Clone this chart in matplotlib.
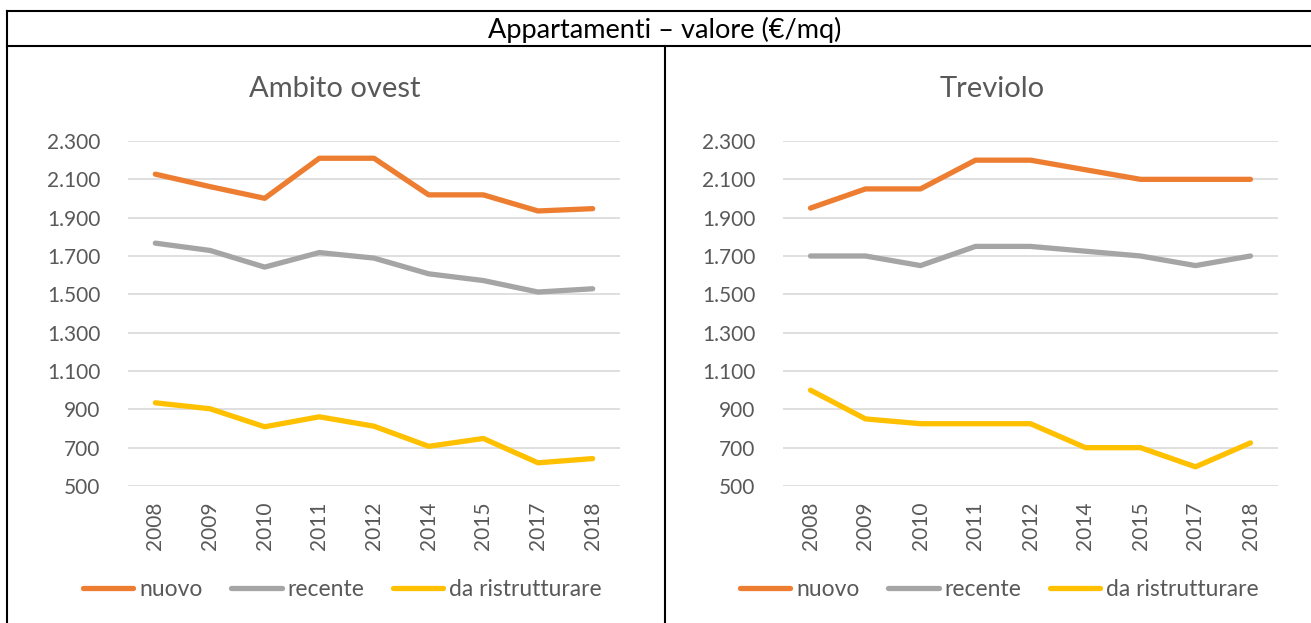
import matplotlib
matplotlib.use("Agg")
import matplotlib.pyplot as plt
from matplotlib.lines import Line2D
from matplotlib.ticker import FuncFormatter

years = ["2008", "2009", "2010", "2011", "2012", "2014", "2015", "2017", "2018"]
series_names = ["nuovo", "recente", "da ristrutturare"]

ovest_nuovo = [2127, 2062, 2001, 2210, 2210, 2019, 2019, 1935, 1947]
ovest_recente = [1767, 1729, 1642, 1718, 1689, 1607, 1572, 1512, 1529]
ovest_ristr = [934, 903, 809, 861, 812, 707, 748, 621, 643]

treviolo_nuovo = [1950, 2050, 2050, 2200, 2200, 2150, 2100, 2100, 2100]
treviolo_recente = [1700, 1700, 1650, 1750, 1750, 1725, 1700, 1650, 1700]
treviolo_ristr = [1000, 850, 825, 825, 825, 700, 700, 600, 725]

yticks = [500, 700, 900, 1100, 1300, 1500, 1700, 1900, 2100, 2300]
colors = ["#ED7D31", "#A5A5A5", "#FFC000"]
text_gray = "#595959"
FONT = ["Lato", "DejaVu Sans"]
plt.rcParams["font.family"] = FONT

W, H = 1311, 623
fig = plt.figure(figsize=(W / 100, H / 100), dpi=100)

def fx(px):
    return px / W

def fy(py):
    return 1 - py / H

# table borders
border_kw = dict(color="black", linewidth=1.5, transform=fig.transFigure, clip_on=False)
fig.add_artist(Line2D([fx(7), 1], [fy(11), fy(11)], **border_kw))
fig.add_artist(Line2D([fx(7), 1], [fy(46), fy(46)], **border_kw))
fig.add_artist(Line2D([fx(7), fx(7)], [fy(11), 0], **border_kw))
fig.add_artist(Line2D([fx(665), fx(665)], [fy(46), 0], **border_kw))
fig.text(fx(665), fy(30), "Appartamenti – valore (€/mq)", ha="center", va="center",
         fontsize=19.5, color="black")

def thousands(v, pos):
    return f"{int(v):,}".replace(",", ".")

def draw(left_px, right_px, title, data, title_x, leg_px):
    bottom = fy(486)
    height = fy(141) - fy(486)
    ax = fig.add_axes([fx(left_px), bottom, fx(right_px - left_px), height])
    x = list(range(len(years)))
    for vals, c, n in zip(data, colors, series_names):
        ax.plot(x, vals, color=c, linewidth=3.8, label=n, solid_capstyle="round",
                solid_joinstyle="round")
    ax.set_xlim(-0.5, len(years) - 0.5)
    ax.set_ylim(500, 2300)
    ax.set_yticks(yticks)
    ax.yaxis.set_major_formatter(FuncFormatter(thousands))
    ax.set_xticks(x)
    ax.set_xticklabels(years, rotation=90)
    ax.grid(axis="y", color="#D9D9D9", linewidth=1.2)
    ax.set_axisbelow(True)
    for s in ax.spines.values():
        s.set_visible(False)
    ax.tick_params(axis="both", length=0, labelsize=15, colors=text_gray)
    ax.tick_params(axis="y", pad=20)
    ax.tick_params(axis="x", pad=11)
    fig.text(title_x, fy(89), title, ha="center", va="center", fontsize=21, color=text_gray)
    leg = fig.legend(handles=ax.get_lines(), loc="center left",
                     bbox_to_anchor=(fx(leg_px), fy(590)), ncol=3,
                     frameon=False, fontsize=16.5, handlelength=2.2, handletextpad=0.25,
                     columnspacing=1.25, labelcolor=text_gray, borderpad=0,
                     borderaxespad=0)
    for h in leg.get_lines():
        h.set_linewidth(3.8)
        h.set_solid_capstyle("round")
    return ax

draw(128, 620, "Ambito ovest", [ovest_nuovo, ovest_recente, ovest_ristr], fx(335), 83)
draw(783, 1278, "Treviolo", [treviolo_nuovo, treviolo_recente, treviolo_ristr], fx(992), 740)

fig.savefig("out.png", dpi=100)
